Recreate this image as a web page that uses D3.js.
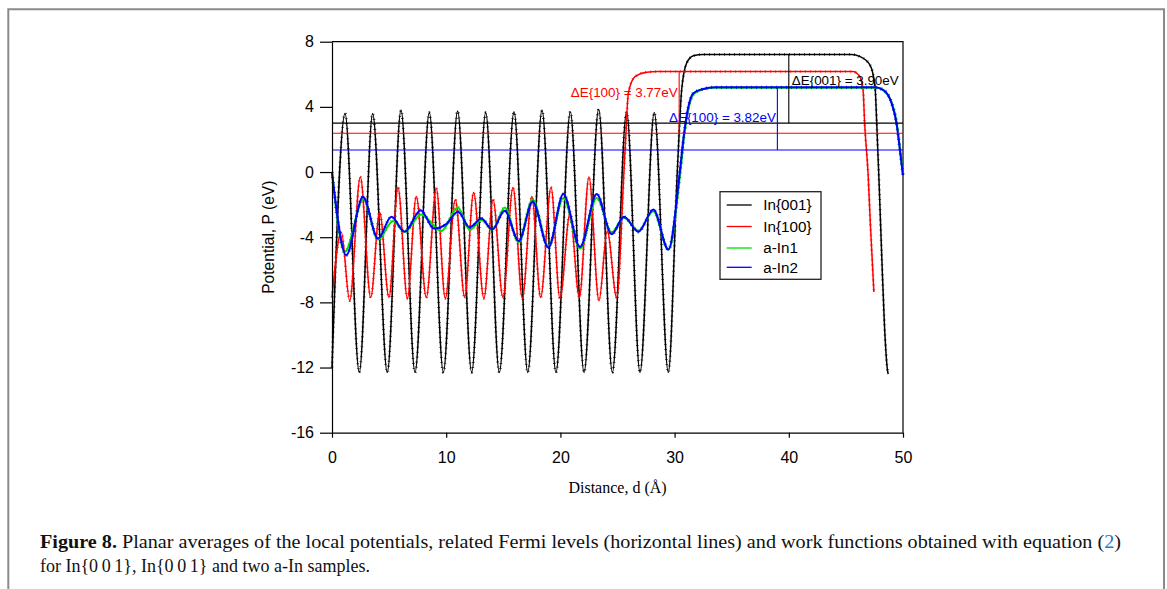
<!DOCTYPE html>
<html><head><meta charset="utf-8">
<script src="https://cdn.jsdelivr.net/npm/d3@7"></script>
<style>body{margin:0;background:#fff}svg{display:block}</style>
</head><body><svg id="c" width="1167" height="589"></svg>
<script>
// ---------- data ----------
const seriesNames = ["In{001}", "In{100}", "a-In1", "a-In2"];
const seriesColors = ["#000000", "#ff0000", "#00e000", "#0000ff"];
const seriesWidths = [1.5, 1.5, 2, 2];

const in001 = [[0,-12.0],[1.14,3.6],[2.39,-12.3],[3.56,3.6],[4.84,-12.3],[6.04,3.8],[7.27,-12.3],[8.52,3.65],[9.75,-12.3],[11.0,3.75],[12.23,-12.3],[13.46,3.65],[14.65,-12.3],[15.94,3.7],[17.14,-12.3],[18.39,3.8],[19.61,-12.3],[20.87,3.7],[22.07,-12.3],[23.35,3.85],[24.55,-12.3],[25.8,3.7],[26.97,-12.3],[28.22,3.65],[29.45,-12.3],[30.24,0.1],[30.62,5.05],[31.06,6.7],[31.64,7.14],[32.5,7.22],[45.5,7.22],[46.2,7.1],[47.1,6.58],[47.55,5.25],[47.7,3.0],[47.93,-1.1],[48.14,-5.2],[48.37,-9.3],[48.63,-12.1],[48.7,-12.4]];

const in100 = [[0,-7.7],[0.82,-3.7],[1.55,-7.9],[2.48,-0.3],[3.39,-7.7],[4.17,-2.45],[4.99,-7.7],[5.78,-0.95],[6.6,-7.75],[7.38,-1.5],[8.26,-7.7],[9.13,-1.0],[9.92,-7.75],[10.8,-1.7],[11.62,-7.7],[12.4,-1.25],[13.3,-7.75],[14.1,-1.7],[14.97,-7.7],[15.85,-0.95],[16.67,-7.75],[17.5,-1.5],[18.27,-7.7],[19.18,-0.95],[19.96,-7.75],[20.84,-2.55],[21.66,-7.7],[22.5,-0.3],[23.38,-7.9],[24.1,-3.6],[24.93,-7.7],[25.57,0.1],[25.71,1.97],[25.95,4.84],[26.53,5.86],[27.56,6.13],[28.5,6.17],[45.6,6.17],[46.2,5.87],[46.5,5.05],[46.64,3.0],[46.94,-0.08],[47.14,-3.16],[47.45,-7.37]];

const aIn1 = [[0,0.0],[1.11,-4.9],[2.75,-1.65],[4.03,-4.15],[5.35,-3.0],[6.36,-3.67],[7.8,-2.6],[9.57,-3.62],[11.03,-2.17],[12.06,-3.55],[13.08,-2.95],[14.04,-3.55],[15.12,-2.17],[16.35,-4.3],[17.57,-1.68],[18.95,-4.6],[20.26,-1.6],[21.72,-4.7],[23.18,-1.6],[24.49,-3.7],[25.57,-2.8],[26.83,-3.6],[28.14,-2.4],[29.46,-4.76],[30.5,0.0],[30.85,2.3],[31.25,4.0],[31.7,4.8],[32.6,5.1],[33.5,5.18],[47.8,5.18],[48.3,5.0],[49.05,4.2],[49.45,3.0],[49.75,1.35],[50,-0.2]];

const aIn2 = [[0,0.0],[1.25,-5.1],[2.71,-1.52],[4.03,-4.08],[5.2,-2.75],[6.36,-3.67],[7.76,-2.34],[8.93,-3.47],[10.0,-3.2],[11.03,-2.44],[12.06,-3.4],[13.08,-2.85],[14.04,-3.53],[15.12,-2.38],[16.35,-4.23],[17.57,-1.83],[18.95,-4.64],[20.26,-1.35],[21.72,-4.6],[23.18,-1.35],[24.49,-3.82],[25.57,-2.75],[26.83,-3.67],[28.14,-2.3],[29.46,-4.76],[30.47,0.1],[30.8,2.2],[31.2,4.0],[31.64,4.84],[32.5,5.1],[33.5,5.2],[47.5,5.2],[48.26,5.05],[49.0,4.23],[49.43,3.0],[49.73,1.35],[50,-0.2]];

const fermiLevels = [3.0, 2.38, 1.35];
const fermiColors = ["#000000", "#ff0000", "#0000ff"];
const deltaX = [40.0, 30.4, 39.0];
const deltaTop = [7.2, 6.17, 5.2];
const deltaLabels = ["\u0394E{001} = 3.90eV", "\u0394E{100} = 3.77eV", "\u0394E{100} = 3.82eV"];
const deltaLabelY = [5.34, 4.59, 3.09];
const deltaAnchor = ["start", "end", "end"];

const xTicks = [0, 10, 20, 30, 40, 50];
const yTicks = [-16, -12, -8, -4, 0, 4, 8];

// ---------- drawing ----------
const svg = d3.select("#c");
const SANS = "'Liberation Sans', Arial, Helvetica, sans-serif";
const SERIF = "'Liberation Serif', 'Times New Roman', serif";

// page frame
svg.append("path").attr("d", "M8.3,589 V9.2 H1164 V589")
  .attr("fill", "none").attr("stroke", "#8a8a8a").attr("stroke-width", 2);

const x = d3.scaleLinear().domain([0, 50]).range([332, 903]);
const y = d3.scaleLinear().domain([-16, 8]).range([432.7, 41.7]);

// plot frame top/right
svg.append("path")
  .attr("d", `M${x(0)},${y(8)} H${x(50)} V${y(-16)}`)
  .attr("fill", "none").attr("stroke", "#000").attr("stroke-width", 1.2);

const line = d3.line().x(d => x(d[0])).y(d => y(d[1])).curve(d3.curveMonotoneX);
const allSeries = [in001, in100, aIn1, aIn2];

allSeries.forEach((s, i) => {
  svg.append("path").attr("d", line(s)).attr("fill", "none")
    .attr("stroke", seriesColors[i]).attr("stroke-width", seriesWidths[i])
    .attr("stroke-linejoin", "round");
  // small point markers along the trace
  svg.append("path").attr("d", line(s)).attr("fill", "none")
    .attr("stroke", seriesColors[i]).attr("stroke-width", seriesWidths[i] + 1.2)
    .attr("stroke-dasharray", "0.8 4.2").attr("opacity", 0.85);
});

// Fermi levels
fermiLevels.forEach((f, i) => {
  svg.append("line").attr("x1", x(0)).attr("x2", x(50))
    .attr("y1", y(f)).attr("y2", y(f))
    .attr("stroke", fermiColors[i]).attr("stroke-width", 1.1);
  svg.append("line").attr("x1", x(deltaX[i])).attr("x2", x(deltaX[i]))
    .attr("y1", y(f)).attr("y2", y(deltaTop[i]))
    .attr("stroke", fermiColors[i]).attr("stroke-width", 1.1);
  svg.append("text")
    .attr("x", x(deltaX[i]) + (deltaAnchor[i] === "start" ? 3 : -1.5))
    .attr("y", y(deltaLabelY[i]))
    .attr("text-anchor", deltaAnchor[i])
    .attr("font-family", SANS).attr("font-size", 13.4)
    .attr("fill", fermiColors[i]).text(deltaLabels[i]);
});

// axes
const yAxis = d3.axisLeft(y).tickValues(yTicks).tickSize(12).tickSizeOuter(0)
  .tickPadding(6).tickFormat(d => String(d));
const gy = svg.append("g").attr("transform", `translate(${x(0)},0)`).call(yAxis);
const xAxis = d3.axisBottom(x).tickValues(xTicks).tickSize(5).tickSizeOuter(0)
  .tickPadding(14).tickFormat(d => String(d));
const gx = svg.append("g").attr("transform", `translate(0,${y(-16)})`).call(xAxis);
[gx, gy].forEach(g => {
  g.selectAll("text").attr("font-family", SANS).attr("font-size", 16).attr("fill", "#000");
  g.selectAll("line").attr("stroke", "#000").attr("stroke-width", 1.2);
  g.select(".domain").attr("stroke", "#000").attr("stroke-width", 1.2);
});

// axis titles
svg.append("text")
  .attr("transform", `translate(274,${(y(8) + y(-16)) / 2}) rotate(-90)`)
  .attr("text-anchor", "middle").attr("font-family", SANS).attr("font-size", 15.6)
  .text("Potential, P (eV)");
svg.append("text")
  .attr("x", (x(0) + x(50)) / 2).attr("y", 493)
  .attr("text-anchor", "middle").attr("font-family", SERIF).attr("font-size", 16)
  .text("Distance, d (\u00C5)");

// legend
const lg = svg.append("g");
lg.append("rect").attr("x", 720).attr("y", 191.7).attr("width", 101).attr("height", 87.6)
  .attr("fill", "#fff").attr("stroke", "#222").attr("stroke-width", 1.3);
const legendY = [205, 226.5, 248, 267.3];
seriesNames.forEach((n, i) => {
  lg.append("line").attr("x1", 726.7).attr("x2", 751.7)
    .attr("y1", legendY[i]).attr("y2", legendY[i])
    .attr("stroke", seriesColors[i]).attr("stroke-width", 1.3);
  lg.append("text").attr("x", 763.3).attr("y", legendY[i]).attr("dy", "0.36em")
    .attr("font-family", SANS).attr("font-size", 15.2).text(n);
});

// caption
const cap1 = svg.append("text").attr("x", 40).attr("y", 548)
  .attr("font-family", SERIF).attr("font-size", 18).attr("fill", "#111")
  .attr("textLength", 1081).attr("lengthAdjust", "spacingAndGlyphs");
cap1.append("tspan").attr("font-weight", "bold").text("Figure 8.");
cap1.append("tspan").text(" Planar averages of the local potentials, related Fermi levels (horizontal lines) and work functions obtained with equation (");
cap1.append("tspan").attr("fill", "#2a7ab8").text("2");
cap1.append("tspan").text(")");
svg.append("text").attr("x", 40).attr("y", 572)
  .attr("font-family", SERIF).attr("font-size", 18).attr("fill", "#111")
  .text("for In{0\u20090\u20091}, In{0\u20090\u20091} and two a-In samples.");
</script>
</body></html>
